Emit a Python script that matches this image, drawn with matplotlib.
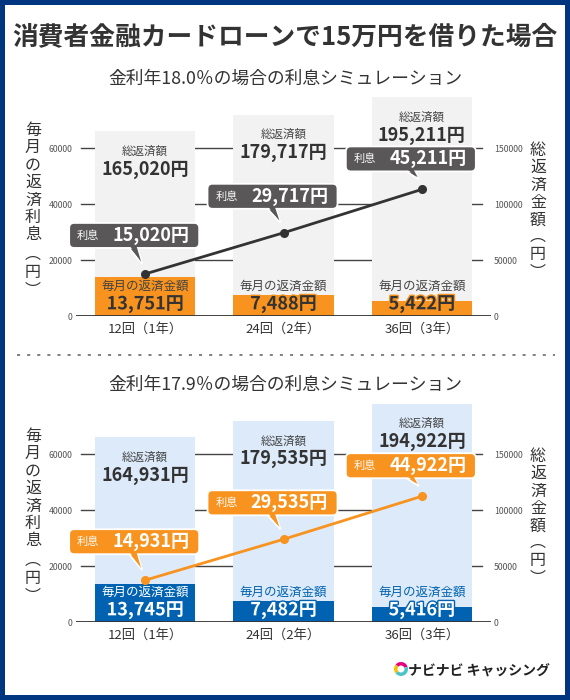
import matplotlib
matplotlib.use('Agg')
import matplotlib.pyplot as plt
import matplotlib.patheffects as pe
from matplotlib.patches import Rectangle, FancyBboxPatch, Polygon, Wedge
from matplotlib.lines import Line2D
from matplotlib.transforms import Affine2D, ScaledTranslation, IdentityTransform

plt.rcParams['font.family'] = ['Noto Sans CJK JP', 'DejaVu Sans']

# ---------------------------------------------------------------------------
# データ
# ---------------------------------------------------------------------------
TITLE = '消費者金融カードローンで15万円を借りた場合'
categories = ['12回（1年）', '24回（2年）', '36回（3年）']

total_180 = [165020, 179717, 195211]      # 総返済額
monthly_180 = [13751, 7488, 5422]         # 毎月の返済金額
interest_180 = [15020, 29717, 45211]      # 利息

total_179 = [164931, 179535, 194922]
monthly_179 = [13745, 7482, 5416]
interest_179 = [14931, 29535, 44922]

left_ticks = [0, 20000, 40000, 60000]
right_ticks = [0, 50000, 100000, 150000]

# ---------------------------------------------------------------------------
# レイアウト (px)
# ---------------------------------------------------------------------------
W, H = 570, 700
CALLOUT_GAP = [26, 24, 18]
NAVY = '#003580'
DARK = '#333333'

STYLE_180 = dict(bg='#f2f2f2', bar='#f7931e', line='#333333', box='#595757',
                 mlabel=['#444444'] * 3, mamount=[DARK] * 3, stroke='#f7931e')
STYLE_179 = dict(bg='#dceafa', bar='#0062b1', line='#f7931e', box='#f7931e',
                 mlabel=['white', '#0062b1', '#0062b1'], mamount=['white'] * 3,
                 stroke='#0062b1')

fig = plt.figure(figsize=(W / 100, H / 100), dpi=100, facecolor=NAVY)
fig.add_artist(Rectangle((5 / W, 5 / H), 560 / W, 690 / H, transform=fig.transFigure,
                         facecolor='white', edgecolor='none', zorder=-10))


def fy(py):
    return 1 - py / H


def vlabel(x, ys, chars):
    for y, c in zip(ys, chars):
        fig.text(x / W, fy(y), c, ha='center', va='center', fontsize=11.5, color=DARK)


def callout(ax, i, v, gap, color):
    tr = Affine2D() + ScaledTranslation(i, v, ax.transData)
    tri = Polygon([(-17, gap + 1), (-8, gap + 1), (-3, 10)], closed=True, transform=tr,
                  facecolor=color, edgecolor='white', lw=1.3, clip_on=False, zorder=5)
    box = FancyBboxPatch((-76, gap), 130, 25, boxstyle='round,pad=0,rounding_size=5',
                         transform=tr, facecolor=color, edgecolor='white', lw=1.3,
                         clip_on=False, zorder=6)
    cover = Polygon([(-16, gap + 3), (-9, gap + 3), (-4, 12)], closed=True, transform=tr,
                    facecolor=color, edgecolor='none', clip_on=False, zorder=7)
    for a in (tri, box, cover):
        ax.add_artist(a)
    ax.text(-57, gap + 12.5, '利息', transform=tr, ha='center', va='center',
            fontsize=8, color='white', zorder=8, clip_on=False)
    ax.text(6, gap + 12.5, f'{v:,}円', transform=tr, ha='center', va='center',
            fontsize=13, fontweight='bold', color='white', zorder=8, clip_on=False)


def draw_panel(base_y, rate, total, monthly, interest, st):
    fig.text(0.5, fy(base_y - 237), f'金利年{rate}％の場合の利息シミュレーション',
             ha='center', va='center', fontsize=12.8, color=DARK)

    rect = [76 / W, fy(base_y), 415 / W, 224 / H]
    ax_r = fig.add_axes(rect, zorder=1)
    ax_l = fig.add_axes(rect, zorder=2)
    for a in (ax_r, ax_l):
        a.set_xlim(-0.5, 2.5)
        a.patch.set_visible(False)
        for s in a.spines.values():
            s.set_visible(False)
    ax_l.set_ylim(0, 80000)
    ax_r.set_ylim(0, 200000)

    # 右軸（総返済額）
    ax_r.yaxis.tick_right()
    ax_r.set_yticks(right_ticks)
    ax_r.set_xticks([])
    ax_r.tick_params(axis='y', length=0, pad=2, labelsize=6.3, labelcolor='#555555')
    for t in right_ticks[1:]:
        ax_r.axhline(t, xmin=5 / 415, xmax=406 / 415, color='#444444', lw=1, zorder=0)
    ax_r.bar(range(3), total, width=0.725, color=st['bg'], zorder=1)
    for i, v in enumerate(total):
        ax_r.annotate('総返済額', xy=(i, v), xytext=(0, -20), textcoords='offset pixels',
                      ha='center', va='center', fontsize=8.3, color='#444444')
        ax_r.annotate(f'{v:,}円', xy=(i, v), xytext=(0, -38), textcoords='offset pixels',
                      ha='center', va='center', fontsize=13, fontweight='bold', color=DARK)

    # 左軸（毎月の返済金額・利息）
    ax_l.set_yticks(left_ticks)
    ax_l.tick_params(axis='y', length=0, pad=2.5, labelsize=6.3, labelcolor='#555555')
    ax_l.set_xticks(range(3), categories)
    ax_l.tick_params(axis='x', length=0, pad=5, labelsize=9.5, labelcolor=DARK)
    ax_l.bar(range(3), monthly, width=0.725, color=st['bar'], zorder=2)
    ax_l.axhline(0, color=DARK, lw=1.3, zorder=3)
    for i, v in enumerate(monthly):
        ax_l.annotate('毎月の返済金額', xy=(i, 0), xytext=(0, 30), textcoords='offset pixels',
                      ha='center', va='center', fontsize=9, color=st['mlabel'][i], zorder=4)
        ax_l.annotate(f'{v:,}円', xy=(i, 0), xytext=(0, 12), textcoords='offset pixels',
                      ha='center', va='center', fontsize=13, fontweight='bold',
                      color=st['mamount'][i], zorder=4,
                      path_effects=[pe.withStroke(linewidth=2, foreground=st['stroke'])])
    ax_l.plot(range(3), interest, color=st['line'], lw=2, marker='o', ms=5.5, zorder=4,
              clip_on=False)
    for i, v in enumerate(interest):
        callout(ax_l, i, v, CALLOUT_GAP[i], st['box'])

    # 縦書き軸ラベル
    off = base_y - 316
    vlabel(33, [y + off for y in [130, 147.5, 165, 182.5, 200, 217.5, 235, 254, 272, 290]],
           '毎月の返済利息︵円︶')
    vlabel(538, [y + off for y in [150, 167.5, 185, 202.5, 220, 236, 254, 272]],
           '総返済金額︵円︶')


fig.text(0.5, fy(37), TITLE, ha='center', va='center', fontsize=18.5,
         fontweight='bold', color=DARK)

draw_panel(316, '18.0', total_180, monthly_180, interest_180, STYLE_180)

fig.add_artist(Line2D([17 / W, 555 / W], [fy(355), fy(355)], transform=fig.transFigure,
                      color='#777777', lw=1.3, linestyle=(0, (1.7, 3.9))))

draw_panel(622, '17.9', total_179, monthly_179, interest_179, STYLE_179)

# ロゴ
cx, cy = 401, H - 669
for t1, t2, c in [(20, 140, '#e5007f'), (140, 220, '#f5c000'), (220, 380, '#4cc3c9')]:
    fig.add_artist(Wedge((cx, cy), 7, t1, t2, width=3.5, transform=IdentityTransform(),
                         facecolor=c, edgecolor='none'))
fig.text(408 / W, fy(672), 'ナビナビ キャッシング', ha='left', va='center', fontsize=10,
         fontweight='bold', color='#222222')

fig.savefig('out.png', dpi=100, facecolor=fig.get_facecolor())
